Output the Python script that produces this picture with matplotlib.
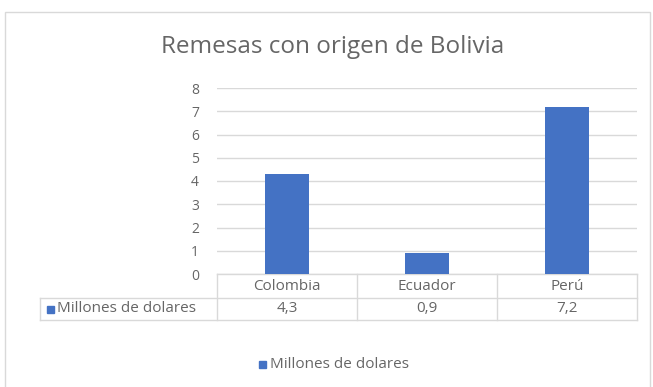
import matplotlib.pyplot as plt
from matplotlib.patches import Rectangle
from matplotlib.lines import Line2D
import numpy as np

plt.rcParams['font.family'] = ['Open Sans', 'DejaVu Sans']

paises = ['Colombia', 'Ecuador', 'Perú']
remesas = [4.3, 0.9, 7.2]
etiquetas = ['4,3', '0,9', '7,2']
serie = 'Millones de dolares'

azul = '#4472C4'
gris = '#666666'
linea = '#D9D9D9'

fig = plt.figure(figsize=(6.53, 3.87), dpi=100)
W, H = 653, 387

# marco del grafico
fig.patches.append(Rectangle((5 / W, -0.01), 645 / W, 1 - 12 / H + 0.01,
                             transform=fig.transFigure, fill=False,
                             edgecolor=linea, linewidth=1))

ax = fig.add_axes([217 / W, 1 - 274 / H, 420 / W, 186 / H])
x = np.arange(len(paises))
ax.bar(x, remesas, width=0.32, color=azul, zorder=3)
ax.set_xlim(-0.5, len(paises) - 0.5)
ax.set_ylim(0, 8)
ax.set_yticks(range(0, 9))
ax.yaxis.grid(True, color=linea, linewidth=1)
ax.set_xticks([])
for s in ax.spines.values():
    s.set_visible(False)
ax.tick_params(axis='y', length=0, pad=13, labelsize=10, labelcolor=gris)

fig.text(333 / W, 1 - 47 / H, 'Remesas con origen de Bolivia', ha='center',
         va='center', fontsize=17.5, color=gris)

# tabla de datos
py = 1 / 186  # unidades de ejes por pixel
r0, r1, r2 = 0, -24 * py, -46 * py
izq = -177 / 420
kw = dict(transform=ax.transAxes, color=linea, linewidth=1, clip_on=False)
for yy, x0 in [(r0, 0), (r1, izq), (r2, izq)]:
    ax.add_line(Line2D([x0, 1], [yy, yy], **kw))
for i in range(len(paises) + 1):
    ax.add_line(Line2D([i / 3, i / 3], [r0, r2], **kw))
ax.add_line(Line2D([izq, izq], [r1, r2], **kw))

for i, (p, e) in enumerate(zip(paises, etiquetas)):
    ax.text((i + 0.5) / 3, (r0 + r1) / 2, p, transform=ax.transAxes,
            ha='center', va='center', fontsize=11, color=gris)
    ax.text((i + 0.5) / 3, (r1 + r2) / 2, e, transform=ax.transAxes,
            ha='center', va='center', fontsize=11, color=gris)

ax.add_patch(Rectangle((izq + 7 / 420, (r1 + r2) / 2 - 3.5 * py), 7 / 420, 7 * py,
                       transform=ax.transAxes, color=azul, clip_on=False))
ax.text(izq + 17 / 420, (r1 + r2) / 2, serie, transform=ax.transAxes,
        ha='left', va='center', fontsize=11, color=gris)

# leyenda
fig.patches.append(Rectangle((259 / W, 1 - 367.5 / H), 7 / W, 7 / H,
                             transform=fig.transFigure, color=azul))
fig.text(270 / W, 1 - 364 / H, serie, ha='left', va='center',
         fontsize=11, color=gris)

fig.savefig('out.png', dpi=100, facecolor='white')
